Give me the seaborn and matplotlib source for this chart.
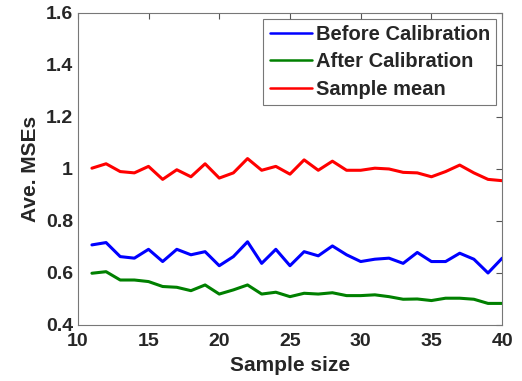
import numpy as np
import pandas as pd
import seaborn as sns
import matplotlib
matplotlib.use("Agg")
import matplotlib.pyplot as plt

# Data
sample_size = list(range(11, 41))
before_cal = [0.708, 0.717, 0.663, 0.657, 0.691, 0.644, 0.691, 0.670, 0.682, 0.628,
              0.663, 0.720, 0.637, 0.691, 0.628, 0.682, 0.666, 0.704, 0.670, 0.644,
              0.653, 0.657, 0.637, 0.679, 0.644, 0.644, 0.676, 0.653, 0.600, 0.657]
after_cal = [0.599, 0.605, 0.573, 0.573, 0.567, 0.548, 0.545, 0.532, 0.554, 0.519,
             0.535, 0.554, 0.519, 0.526, 0.509, 0.522, 0.519, 0.524, 0.513, 0.513,
             0.516, 0.509, 0.499, 0.500, 0.494, 0.503, 0.503, 0.499, 0.483, 0.483]
sample_mean = [1.003, 1.020, 0.990, 0.985, 1.010, 0.960, 0.997, 0.970, 1.020, 0.965,
               0.985, 1.040, 0.995, 1.010, 0.980, 1.035, 0.995, 1.030, 0.995, 0.995,
               1.003, 1.000, 0.987, 0.985, 0.970, 0.990, 1.015, 0.985, 0.960, 0.955]
series_names = ["Before Calibration", "After Calibration", "Sample mean"]

df = pd.DataFrame({
    "Sample size": sample_size * 3,
    "Ave. MSEs": before_cal + after_cal + sample_mean,
    "series": np.repeat(series_names, len(sample_size)),
})

sns.set_style("white")
plt.rcParams["font.family"] = ["Liberation Sans", "DejaVu Sans"]
plt.rcParams["font.weight"] = "bold"

fig = plt.figure(figsize=(5.22, 3.81), dpi=100)
ax = fig.add_axes([0.149, 0.147, 0.813, 0.819])

palette = {"Before Calibration": "#0000ff", "After Calibration": "#008000", "Sample mean": "#ff0000"}
sns.lineplot(data=df, x="Sample size", y="Ave. MSEs", hue="series",
             palette=palette, linewidth=2.2, ax=ax)

ax.set_xlim(10, 40)
ax.set_ylim(0.4, 1.6)
ax.set_xticks([10, 15, 20, 25, 30, 35, 40])
ax.set_yticks([0.4, 0.6, 0.8, 1.0, 1.2, 1.4, 1.6])
ax.set_yticklabels(["0.4", "0.6", "0.8", "1", "1.2", "1.4", "1.6"])
ax.tick_params(direction="in", top=True, right=True, length=4, labelsize=14, color="#555555")
ax.tick_params(axis="x", pad=6)
for lbl in ax.get_xticklabels() + ax.get_yticklabels():
    lbl.set_fontweight("bold")
for sp in ax.spines.values():
    sp.set_color("#777777")
    sp.set_linewidth(0.8)

ax.set_xlabel("Sample size", fontsize=15, fontweight="bold", labelpad=4)
ax.set_ylabel("Ave. MSEs", fontsize=15, fontweight="bold", labelpad=4)

leg = ax.legend(loc="upper right", frameon=True, fancybox=False,
                borderpad=0.3, handlelength=2.1, handletextpad=0.2, labelspacing=0.42,
                borderaxespad=0.3, prop={"weight": "bold", "size": 14.5})
leg.get_frame().set_edgecolor("#555555")
leg.get_frame().set_linewidth(0.8)
for line in leg.get_lines():
    line.set_linewidth(1.8)

fig.savefig("out.png", dpi=100)
